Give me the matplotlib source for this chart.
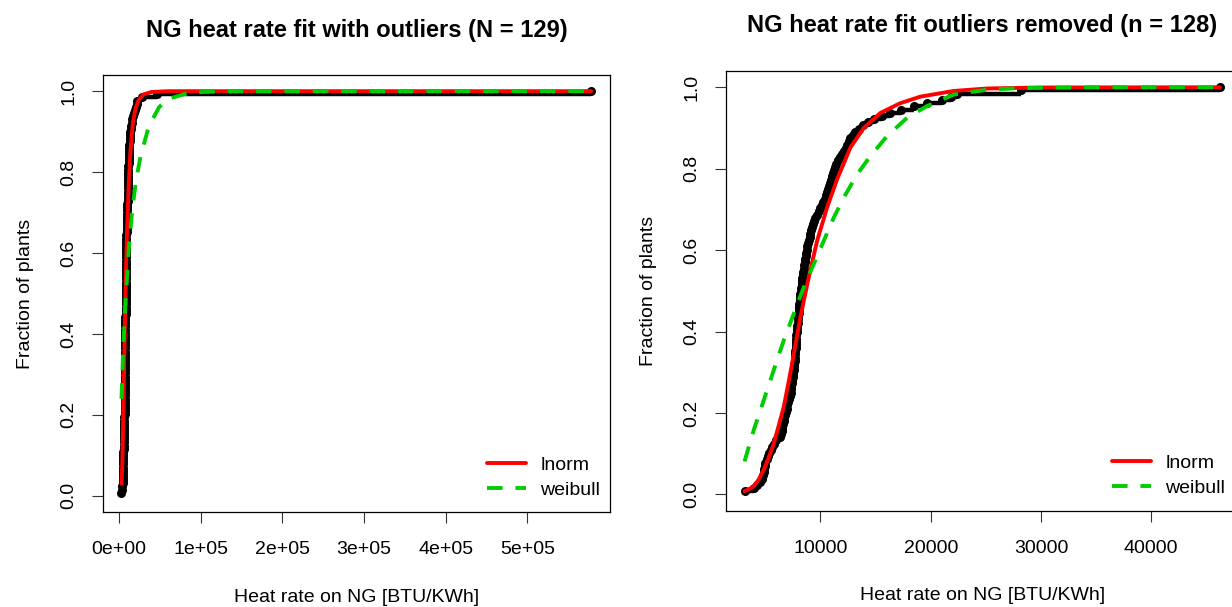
import matplotlib
matplotlib.use("Agg")
import matplotlib.pyplot as plt
import numpy as np

plt.rcParams["font.family"] = ["Liberation Sans", "DejaVu Sans"]

# ---------------------------------------------------------------------------
# Data
# ---------------------------------------------------------------------------
# NG heat rates [BTU/KWh], sorted, outlier removed (n = 128)
ng_rate_trim = [
    3108, 3930, 4220, 4504, 4725, 4780, 4833, 4888, 4942, 4998,
    5108, 5238, 5367, 5495, 5624, 5750, 6009, 6286, 6414, 6476,
    6538, 6600, 6662, 6724, 6786, 6853, 6925, 6997, 7068, 7140,
    7212, 7282, 7322, 7362, 7402, 7442, 7482, 7522, 7562, 7602,
    7641, 7660, 7678, 7697, 7716, 7735, 7754, 7773, 7792, 7811,
    7834, 7862, 7891, 7919, 7949, 7978, 8007, 8036, 8065, 8094,
    8123, 8152, 8180, 8216, 8253, 8289, 8326, 8362, 8398, 8435,
    8471, 8514, 8562, 8610, 8658, 8706, 8755, 8809, 8878, 8947,
    9016, 9085, 9155, 9251, 9347, 9442, 9538, 9679, 9821, 9963,
    10105, 10246, 10388, 10499, 10587, 10675, 10763, 10851, 10939, 11028,
    11117, 11206, 11295, 11412, 11590, 11768, 11958, 12153, 12319, 12446,
    12573, 12700, 12921, 13157, 13450, 13872, 14306, 14896, 15572, 16309,
    17292, 18470, 19660, 21030, 21864, 22380, 28200, 46240,
]
ng_outlier = 578000

# fitted CDFs, with outlier (left panel)
lnorm_all_x = [3108, 4000, 5000, 6000, 7000, 8000, 9000, 10000, 12000, 14000,
               17000, 20000, 24000, 30000, 40000, 60000, 578000]
lnorm_all_p = [0.03, 0.07, 0.16, 0.28, 0.39, 0.50, 0.59, 0.66, 0.77, 0.85,
               0.92, 0.955, 0.978, 0.992, 0.998, 1.0, 1.0]
weib_all_x = [3108, 5000, 7000, 9000, 12000, 16300, 21000, 26500, 36700, 49000,
              58800, 85700, 120000, 578000]
weib_all_p = [0.24, 0.35, 0.44, 0.51, 0.61, 0.707, 0.78, 0.84, 0.914, 0.96,
              0.98, 0.996, 0.9995, 1.0]

# fitted CDFs, outlier removed (right panel)
lnorm_trim_x = [3108, 3500, 3954, 4400, 4860, 5300, 5767, 6200, 6673, 7050,
                7428, 8183, 8939, 9694, 10600, 11506, 12715, 13923, 15434, 17246,
                19059, 22080, 25100, 30000, 46240]
lnorm_trim_p = [0.008, 0.013, 0.02, 0.037, 0.061, 0.09, 0.126, 0.168, 0.216, 0.268,
                0.322, 0.436, 0.534, 0.623, 0.705, 0.774, 0.852, 0.90, 0.937, 0.961,
                0.977, 0.991, 0.997, 0.9995, 1.0]
weib_trim_x = [3108, 3954, 4860, 5767, 6673, 7579, 8486, 9392, 10300, 11204,
               12111, 13320, 14527, 16038, 17850, 19666, 22080, 25100, 28121, 35000,
               46240]
weib_trim_p = [0.081, 0.159, 0.232, 0.306, 0.379, 0.444, 0.509, 0.566, 0.623, 0.68,
               0.729, 0.786, 0.831, 0.88, 0.925, 0.954, 0.982, 0.994, 0.998, 1.0,
               1.0]

left_xticks = [0, 1e5, 2e5, 3e5, 4e5, 5e5]
left_xticklabels = ["0e+00", "1e+05", "2e+05", "3e+05", "4e+05", "5e+05"]
right_xticks = [10000, 20000, 30000, 40000]
right_xticklabels = ["10000", "20000", "30000", "40000"]
yticks = [0.0, 0.2, 0.4, 0.6, 0.8, 1.0]
yticklabels = ["0.0", "0.2", "0.4", "0.6", "0.8", "1.0"]

RED = "#FF0000"
GREEN = "#00CD00"
FS = 14

W, H = 1232, 607


def px_box(left, right, top, bottom):
    return [left / W, 1 - bottom / H, (right - left) / W, (bottom - top) / H]


def cdf_panel(ax, data, lx, lp, wx, wp, title, title_pad, xticks, xlabels, leg_xy):
    data = np.sort(np.asarray(data, dtype=float))
    n = len(data)
    p = np.arange(1, n + 1) / n

    # empirical cdf: horizontal steps + points
    ax.hlines(p[:-1], data[:-1], data[1:], color="black", lw=3.2, zorder=2)
    ax.plot(data, p, "o", color="black", ms=6.5, mew=0, zorder=2)

    ax.plot(lx, lp, color=RED, lw=2.8, solid_capstyle="round", zorder=3,
            label="lnorm")
    ax.plot(wx, wp, color=GREEN, lw=2.8, dashes=(4.0, 3.3), zorder=4,
            label="weibull")

    span = data[-1] - data[0]
    ax.set_xlim(data[0] - 0.04 * span, data[-1] + 0.04 * span)
    ax.set_ylim(-0.04, 1.04)

    ax.set_xticks(xticks)
    ax.set_xticklabels(xlabels)
    ax.set_yticks(yticks)
    ax.set_yticklabels(yticklabels, rotation=90, va="center")
    ax.tick_params(direction="out", length=8, width=0.8, labelsize=FS,
                   color="#333333")
    ax.tick_params(axis="x", pad=13)
    ax.tick_params(axis="y", pad=10)
    for s in ax.spines.values():
        s.set_linewidth(0.9)

    ax.set_xlabel("Heat rate on NG [BTU/KWh]", fontsize=FS, labelpad=22)
    ax.set_ylabel("Fraction of plants", fontsize=FS, labelpad=19)
    ax.set_title(title, fontsize=17, fontweight="bold", pad=title_pad)

    ax.legend(loc="upper left", bbox_to_anchor=(leg_xy[0] / W, 1 - leg_xy[1] / H),
              bbox_transform=ax.figure.transFigure, frameon=False,
              fontsize=FS, handlelength=2.0, handletextpad=0.75,
              borderpad=0, borderaxespad=0, labelspacing=0.38)


fig = plt.figure(figsize=(W / 100, H / 100), dpi=100)

ax1 = fig.add_axes(px_box(102.7, 610, 75, 512))
cdf_panel(ax1, ng_rate_trim + [ng_outlier], lnorm_all_x, lnorm_all_p,
          weib_all_x, weib_all_p,
          "NG heat rate fit with outliers (N = 129)", 27,
          left_xticks, left_xticklabels, (487, 456))

ax2 = fig.add_axes(px_box(725.5, 1239, 71, 510.7))
cdf_panel(ax2, ng_rate_trim, lnorm_trim_x, lnorm_trim_p,
          weib_trim_x, weib_trim_p,
          "NG heat rate fit outliers removed (n = 128)", 28,
          right_xticks, right_xticklabels, (1112, 454))

fig.savefig("out.png", dpi=100)
